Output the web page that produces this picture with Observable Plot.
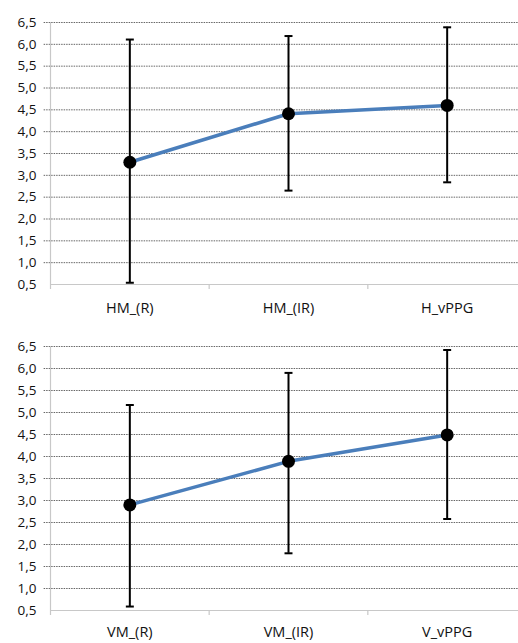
<!DOCTYPE html>
<html>
<head>
<meta charset="utf-8">
<script src="https://cdn.jsdelivr.net/npm/d3@7"></script>
<script src="https://cdn.jsdelivr.net/npm/@observablehq/plot@0.6"></script>
<style>
  html, body { margin: 0; padding: 0; background: #fff; overflow: hidden; }
  svg { display: block; }
</style>
</head>
<body>
<div id="chart"></div>
<script>
// Panel 1 (horizontal)
const catsH = ["HM_(R)", "HM_(IR)", "H_vPPG"];
const meanH = [3.30, 4.41, 4.60];
const loH   = [0.54, 2.65, 2.84];
const hiH   = [6.11, 6.19, 6.39];

// Panel 2 (vertical)
const catsV = ["VM_(R)", "VM_(IR)", "V_vPPG"];
const meanV = [2.90, 3.89, 4.49];
const loV   = [0.59, 1.80, 2.58];
const hiV   = [5.17, 5.90, 6.42];

const yTicks = [0.5, 1.0, 1.5, 2.0, 2.5, 3.0, 3.5, 4.0, 4.5, 5.0, 5.5, 6.0, 6.5];

const fmt = v => v.toFixed(1).replace(".", ",");
const capSymbol = {
  draw(context, size) {
    const w = Math.sqrt(size) / 2;
    context.moveTo(-w, 0);
    context.lineTo(w, 0);
  }
};

function panel(cats, mean, lo, hi, opts) {
  const data = cats.map((c, i) => ({c, i: i + 0.5, m: mean[i], lo: lo[i], hi: hi[i]}));
  return Plot.plot({
    width: 518,
    height: opts.height,
    marginTop: opts.marginTop,
    marginBottom: opts.marginBottom,
    marginLeft: 50,
    marginRight: -8,
    style: {fontFamily: "'Open Sans', sans-serif", fontSize: "13px", color: "#111", background: "#fff"},
    x: {domain: [0, cats.length], axis: null},
    y: {domain: [0.5, 6.5], axis: null},
    marks: [
      Plot.gridY(yTicks.slice(1), {stroke: "#666", strokeOpacity: 1, strokeDasharray: "1.5,1", strokeWidth: 1, x1: -0.04, x2: cats.length}),
      Plot.ruleX([0], {y1: 0.5, y2: 6.5, stroke: "#c8c8c8", strokeWidth: 1.2}),
      Plot.ruleY([0.5], {stroke: "#c8c8c8", strokeWidth: 1.2}),
      Plot.axisX(d3.range(cats.length + 1), {tickSize: 5, stroke: "#c8c8c8", strokeWidth: 1.2, tickFormat: () => "", label: null}),
      Plot.axisX(data.map(d => d.i), {tickSize: 0, tickPadding: opts.labelPad, tickFormat: v => cats[Math.floor(v)], fontSize: 14.5, label: null}),
      Plot.axisY(yTicks, {tickSize: 0, tickPadding: 14, tickFormat: fmt, fontSize: 13.5, label: null}),
      Plot.ruleX(data, {x: "i", y1: "lo", y2: "hi", stroke: "#000", strokeWidth: 2}),
      Plot.dot(data, {x: "i", y: "lo", symbol: capSymbol, r: 4.5, stroke: "#000", strokeWidth: 2, fill: "none"}),
      Plot.dot(data, {x: "i", y: "hi", symbol: capSymbol, r: 4.5, stroke: "#000", strokeWidth: 2, fill: "none"}),
      Plot.line(data, {x: "i", y: "m", stroke: "#4a7ebb", strokeWidth: 3.5}),
      Plot.dot(data, {x: "i", y: "m", r: 6.5, fill: "#000", stroke: "none"})
    ]
  });
}

const root = document.getElementById("chart");
root.appendChild(panel(catsH, meanH, loH, hiH, {height: 330, marginTop: 22, marginBottom: 46, labelPad: 18}));
root.appendChild(panel(catsV, meanV, loV, hiV, {height: 313, marginTop: 16, marginBottom: 33, labelPad: 16}));
</script>
</body>
</html>
